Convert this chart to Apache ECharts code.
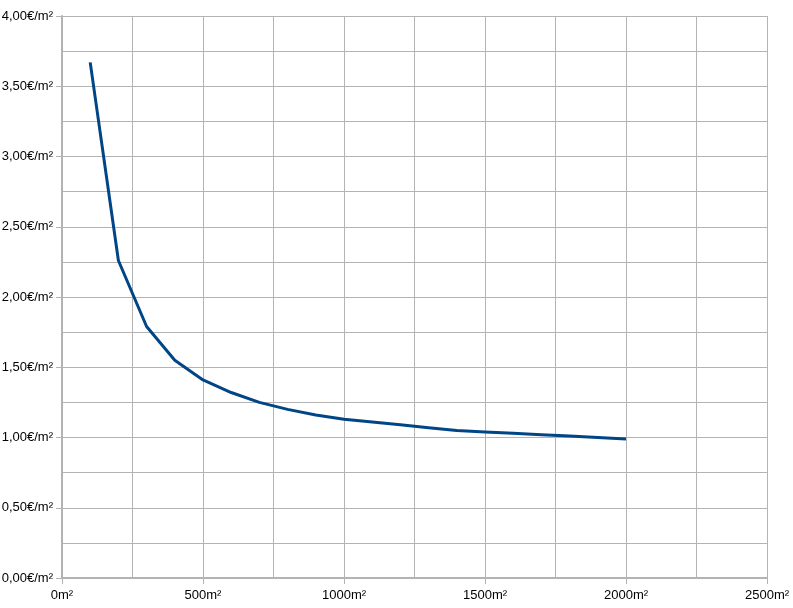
<!DOCTYPE html>
<html><head><meta charset="utf-8">
<script src="https://cdn.jsdelivr.net/npm/echarts@6/dist/echarts.min.js"></script>
<style>html,body{margin:0;padding:0;background:#fff}#c{width:793px;height:608px}</style>
</head><body><div id="c"></div>
<script>
const areas = [100,200,300,400,500,600,700,800,900,1000,1100,1200,1300,1400,1500,1600,1700,1800,1900,2000];
const prices = [3.67,2.26,1.79,1.55,1.41,1.32,1.25,1.20,1.16,1.13,1.11,1.09,1.07,1.05,1.04,1.03,1.02,1.01,1.00,0.99];
const xMin = 0, xMax = 2500, xStep = 500;
const yMin = 0, yMax = 4, yStep = 0.5;

const chart = echarts.init(document.getElementById('c'), null, {renderer:'canvas'});
const font = 'Liberation Sans';
const gridColor = '#b3b3b3';
chart.setOption({
  animation:false,
  grid:{left:62,right:26,top:16,bottom:30,containLabel:false,outerBoundsMode:'none'},
  xAxis:{type:'value',min:xMin,max:xMax,interval:xStep,
    axisLine:{show:true,lineStyle:{color:gridColor,width:2}},
    axisTick:{show:true,length:6,lineStyle:{color:gridColor}},
    minorTick:{show:false,splitNumber:2},
    splitLine:{show:true,lineStyle:{color:gridColor,width:1}},
    minorSplitLine:{show:true,lineStyle:{color:gridColor,width:1}},
    axisLabel:{color:'#000',fontFamily:font,fontSize:13,margin:11,formatter:v=>v+'m²'}},
  yAxis:{type:'value',min:yMin,max:yMax,interval:yStep,
    axisLine:{show:true,lineStyle:{color:gridColor,width:2}},
    axisTick:{show:true,length:6,lineStyle:{color:gridColor}},
    minorTick:{show:false,splitNumber:2},
    splitLine:{show:true,lineStyle:{color:gridColor,width:1}},
    minorSplitLine:{show:true,lineStyle:{color:gridColor,width:1}},
    axisLabel:{color:'#000',fontFamily:font,fontSize:13,margin:9,formatter:v=>v.toFixed(2).replace('.',',')+'€/m²'}},
  series:[{type:'line',data:areas.map((a,i)=>[a,prices[i]]),showSymbol:false,
    lineStyle:{color:'#004586',width:3},itemStyle:{color:'#004586'}}]
});
</script></body></html>
